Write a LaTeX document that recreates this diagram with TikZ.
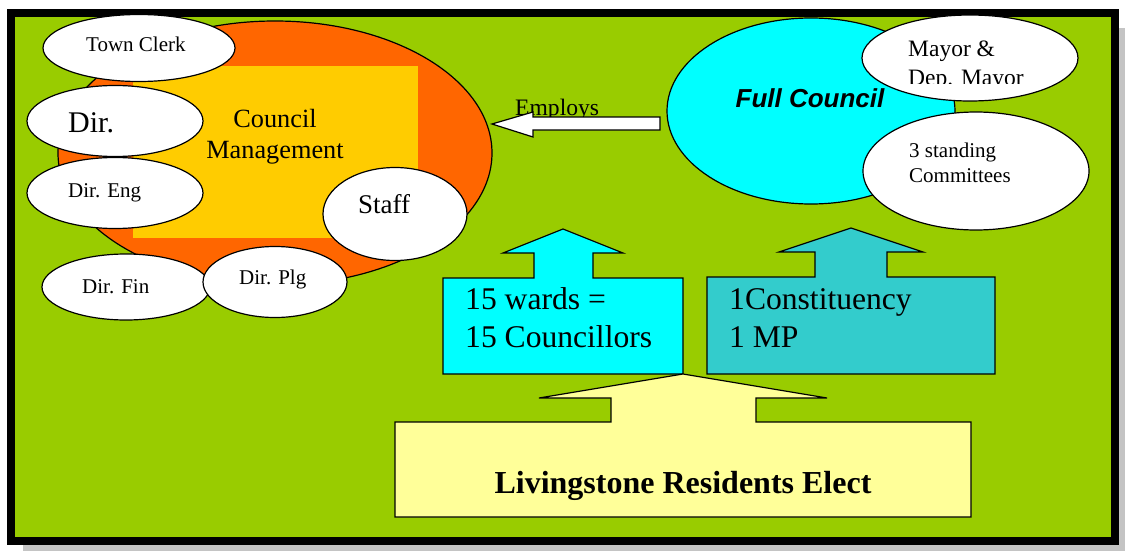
\documentclass[tikz,border=0pt]{standalone}
\usepackage{fontspec}
\setmainfont{Liberation Serif}
\newfontfamily\sansbi{Liberation Sans}
\usetikzlibrary{shapes.geometric}
\definecolor{bggreen}{HTML}{99CC00}
\definecolor{orng}{HTML}{FF6600}
\definecolor{gold}{HTML}{FFCC00}
\definecolor{cyn}{HTML}{00FFFF}
\definecolor{teal2}{HTML}{33CCCC}
\definecolor{lyel}{HTML}{FFFF99}
\definecolor{shad}{HTML}{C4C4C4}
\newcommand{\fs}[1]{\fontsize{#1}{#1}\selectfont}
\begin{document}
\begin{tikzpicture}[x=1pt,y=-1pt,
  outl/.style={draw=black,line width=1.2pt},
  oval/.style={ellipse,outl,fill=white,inner sep=0pt},
  txt/.style={anchor=base west,inner sep=0pt}]
\useasboundingbox (0,0) rectangle (1125,551);
\fill[white] (0,0) rectangle (1125,551);
% shadow and frame
\fill[shad] (23,28) rectangle (1126,552);
\fill[black] (7,9) rectangle (1119,545);
\fill[bggreen] (15,17) rectangle (1111,537);
% council management
\node[ellipse,outl,fill=orng,minimum width=434pt,minimum height=264pt,inner sep=0pt] (mgmt) at (275,153) {};
\fill[gold] (133,66) rectangle (418,238);
\node[anchor=base,inner sep=0pt,font=\fs{26.3}] (cm1) at (275,127) {Council};
\node[anchor=base,inner sep=0pt,font=\fs{26.3}] (cm2) at (275,158) {Management};
\node[oval,minimum width=192pt,minimum height=67pt] (clerk) at (139,48) {};
\node[txt,font=\fs{21}] (clerkt) at (86,52) {Town Clerk};
\node[oval,minimum width=176pt,minimum height=71pt] (dir) at (115,121) {};
\node[txt,font=\fs{30}] (dirt) at (68,132) {Dir.};
\node[oval,minimum width=176pt,minimum height=71pt] (eng) at (115,193) {};
\node[txt,font=\fs{21}] (engt) at (68,197) {Dir. Eng};
\node[oval,minimum width=144pt,minimum height=93pt] (staff) at (395,214) {};
\node[txt,font=\fs{27}] (stafft) at (358,213) {Staff};
\node[oval,minimum width=168pt,minimum height=66pt] (fin) at (126,287) {};
\node[txt,font=\fs{21}] (fint) at (82,293) {Dir. Fin};
\node[oval,minimum width=144pt,minimum height=71pt] (plg) at (275,282) {};
\node[txt,font=\fs{21}] (plgt) at (239,284) {Dir. Plg};
% employs arrow
\node[txt,font=\fs{23.6}] (emp) at (515,115) {Employs};
\draw[outl,fill=white] (660,117) -- (533,117) -- (533,112) -- (492,124) -- (533,137) -- (533,130) -- (660,130) -- cycle;
% full council
\node[ellipse,outl,fill=cyn,minimum width=288pt,minimum height=186pt,inner sep=0pt] (full) at (811,111) {};
\node[anchor=base,inner sep=0pt,font=\sansbi\bfseries\itshape\fs{26}] (fullt) at (810,107) {Full Council};
\node[oval,minimum width=216pt,minimum height=86pt] (mayor) at (970,58) {};
\begin{scope}
\clip (880,20) rectangle (1070,84);
\node[txt,font=\fs{23.5}] (mayt1) at (908,57) {Mayor \&};
\node[txt,font=\fs{23.5}] (mayt2) at (908,85.5) {Dep. Mayor};
\end{scope}
\node[oval,minimum width=226pt,minimum height=118pt] (comm) at (976,171) {};
\node[txt,font=\fs{21}] (comt1) at (909,157) {3 standing};
\node[txt,font=\fs{21}] (comt2) at (909,182) {Committees};
% wards
\draw[outl,fill=cyn] (443,374) -- (443,278) -- (534,278) -- (534,253) -- (503,253) -- (563,229) -- (623,253) -- (593,253) -- (593,278) -- (683,278) -- (683,374) -- cycle;
\node[txt,font=\fs{31.6}] (w1) at (465,309) {15 wards =};
\node[txt,font=\fs{31.6}] (w2) at (465,347) {15 Councillors};
% constituency
\draw[outl,fill=teal2] (707,374) -- (707,277) -- (815,277) -- (815,252) -- (779,252) -- (851,228) -- (923,252) -- (887,252) -- (887,277) -- (995,277) -- (995,374) -- cycle;
\node[txt,font=\fs{31.6}] (c1) at (729,309) {1Constituency};
\node[txt,font=\fs{31.6}] (c2) at (729,347) {1 MP};
% residents
\draw[outl,fill=lyel] (395,517) -- (395,422) -- (611,422) -- (611,398) -- (539,398) -- (683,374) -- (827,398) -- (756,398) -- (756,422) -- (971,422) -- (971,517) -- cycle;
\node[anchor=base,inner sep=0pt,font=\bfseries\fs{32}] (res) at (683,493) {Livingstone Residents Elect};
\end{tikzpicture}
\end{document}
